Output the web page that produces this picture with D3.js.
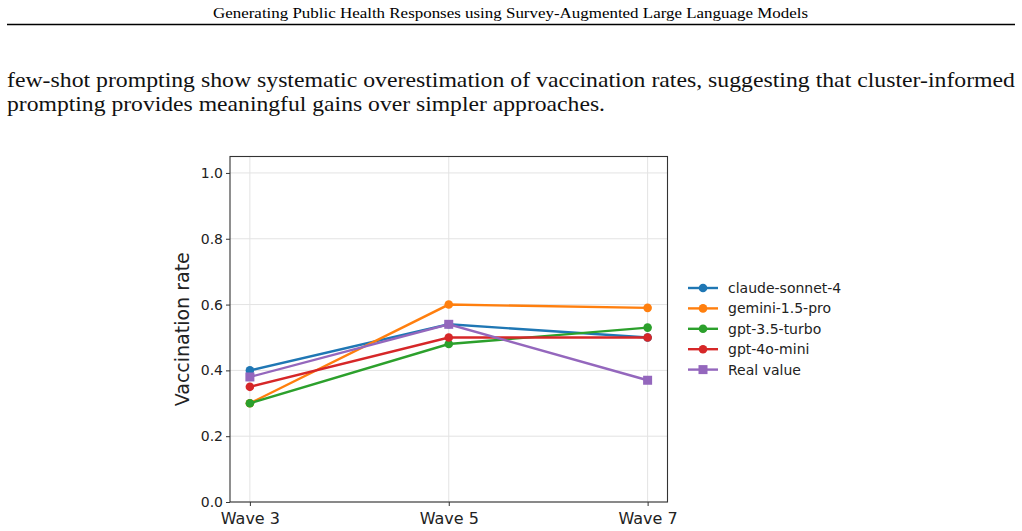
<!DOCTYPE html>
<html>
<head>
<meta charset="utf-8">
<script src="https://cdn.jsdelivr.net/npm/d3@7"></script>
<style>
  body { margin: 0; background: #fff; }
  svg { display: block; }
</style>
</head>
<body>
<svg id="page" width="1022" height="531"></svg>
<script>
// data
const waves = ['Wave 3', 'Wave 5', 'Wave 7']
const models = ['claude-sonnet-4', 'gemini-1.5-pro', 'gpt-3.5-turbo', 'gpt-4o-mini', 'Real value']
const claudeVals = [0.40, 0.54, 0.50]
const geminiVals = [0.30, 0.60, 0.59]
const gpt35Vals = [0.30, 0.48, 0.53]
const gpt4oVals = [0.35, 0.50, 0.50]
const realVals = [0.38, 0.54, 0.37]
const yTicks = [0.0, 0.2, 0.4, 0.6, 0.8, 1.0]

const seriesVals = [claudeVals, geminiVals, gpt35Vals, gpt4oVals, realVals]
const color = d3.scaleOrdinal(models, ['#1f77b4', '#ff7f0e', '#2ca02c', '#d62728', '#9467bd'])

const svg = d3.select('#page')

// page header + rule
svg.append('text')
  .attr('x', 213).attr('y', 18)
  .attr('textLength', 595).attr('lengthAdjust', 'spacingAndGlyphs')
  .style('font-family', 'Liberation Serif, serif').style('font-size', '14px')
  .text('Generating Public Health Responses using Survey-Augmented Large Language Models')

svg.append('line')
  .attr('x1', 7).attr('x2', 1015).attr('y1', 24.5).attr('y2', 24.5)
  .attr('stroke', '#000').attr('stroke-width', 1.6)

// body text
const paraLines = [
  {t: 'few-shot prompting show systematic overestimation of vaccination rates, suggesting that cluster-informed', w: 1008, y: 87},
  {t: 'prompting provides meaningful gains over simpler approaches.', w: 598, y: 111}
]
svg.selectAll('.para')
  .data(paraLines)
  .enter()
  .append('text')
  .attr('class', 'para')
  .attr('x', 7).attr('y', d => d.y)
  .attr('textLength', d => d.w).attr('lengthAdjust', 'spacingAndGlyphs')
  .style('font-family', 'Liberation Serif, serif').style('font-size', '22px')
  .attr('fill', '#111')
  .text(d => d.t)

// chart area
const box = {left: 230, right: 667.5, top: 156.5, bottom: 502}

// matplotlib style 5% margins on x
const xPad = (box.right - box.left) * 0.05 / 1.1
const x = d3.scalePoint()
  .domain(waves)
  .range([box.left + xPad, box.right - xPad])

const y = d3.scaleLinear()
  .domain([0, 1.05])
  .range([box.bottom, box.top])

const g = svg.append('g')

// grid
g.selectAll('.ygrid')
  .data(yTicks)
  .enter()
  .append('line')
  .attr('x1', box.left).attr('x2', box.right)
  .attr('y1', d => y(d)).attr('y2', d => y(d))
  .attr('stroke', '#e3e3e3').attr('stroke-width', 1)

g.selectAll('.xgrid')
  .data(waves)
  .enter()
  .append('line')
  .attr('x1', d => x(d)).attr('x2', d => x(d))
  .attr('y1', box.top).attr('y2', box.bottom)
  .attr('stroke', '#e3e3e3').attr('stroke-width', 1)

// axes
const yAxis = g.append('g')
  .attr('transform', `translate(${box.left},0)`)
  .call(d3.axisLeft(y).tickValues(yTicks).tickFormat(d3.format('.1f')).tickSizeOuter(0).tickSize(4).tickPadding(3))
yAxis.select('.domain').remove()
yAxis.selectAll('text')
  .style('font-family', 'DejaVu Sans, sans-serif').style('font-size', '14px').attr('fill', '#222')
yAxis.selectAll('line').attr('stroke', '#333')

const xAxis = g.append('g')
  .attr('transform', `translate(0,${box.bottom})`)
  .call(d3.axisBottom(x).tickSizeOuter(0).tickSize(4).tickPadding(7))
xAxis.select('.domain').remove()
xAxis.selectAll('text')
  .style('font-family', 'DejaVu Sans, sans-serif').style('font-size', '16px').attr('fill', '#222')
xAxis.selectAll('line').attr('stroke', '#333')

g.append('rect')
  .attr('x', box.left).attr('y', box.top)
  .attr('width', box.right - box.left).attr('height', box.bottom - box.top)
  .attr('fill', 'none').attr('stroke', '#333').attr('stroke-width', 1.1)

g.append('text')
  .attr('transform', `translate(189,${(box.top + box.bottom) / 2}) rotate(-90)`)
  .attr('text-anchor', 'middle')
  .style('font-family', 'DejaVu Sans, sans-serif').style('font-size', '19px')
  .attr('fill', '#222')
  .text('Vaccination rate')

// lines + markers
const line = d3.line()
  .x((d, i) => x(waves[i]))
  .y(d => y(d))

models.forEach(function (m, k) {
  let vals = seriesVals[k]
  let s = g.append('g')
  s.append('path')
    .attr('d', line(vals))
    .attr('fill', 'none')
    .attr('stroke', color(m))
    .attr('stroke-width', 2.4)
  if (m === 'Real value') {
    s.selectAll('rect')
      .data(vals)
      .enter()
      .append('rect')
      .attr('x', (d, i) => x(waves[i]) - 4.5)
      .attr('y', d => y(d) - 4.5)
      .attr('width', 9).attr('height', 9)
      .attr('fill', color(m))
  } else {
    s.selectAll('circle')
      .data(vals)
      .enter()
      .append('circle')
      .attr('cx', (d, i) => x(waves[i]))
      .attr('cy', d => y(d))
      .attr('r', 4.3)
      .attr('fill', color(m))
  }
})

// legend
const leg = svg.append('g').attr('transform', 'translate(688,288)')
models.forEach(function (m, k) {
  let row = leg.append('g').attr('transform', `translate(0,${k * 20.4})`)
  row.append('line')
    .attr('x1', 0).attr('x2', 30)
    .attr('stroke', color(m)).attr('stroke-width', 2.4)
  if (m === 'Real value') {
    row.append('rect').attr('x', 10.5).attr('y', -4.5).attr('width', 9).attr('height', 9).attr('fill', color(m))
  } else {
    row.append('circle').attr('cx', 15).attr('r', 4.3).attr('fill', color(m))
  }
  row.append('text')
    .attr('x', 40).attr('y', 5)
    .style('font-family', 'DejaVu Sans, sans-serif').style('font-size', '14px')
    .attr('fill', '#222')
    .text(m)
})
</script>
</body>
</html>
